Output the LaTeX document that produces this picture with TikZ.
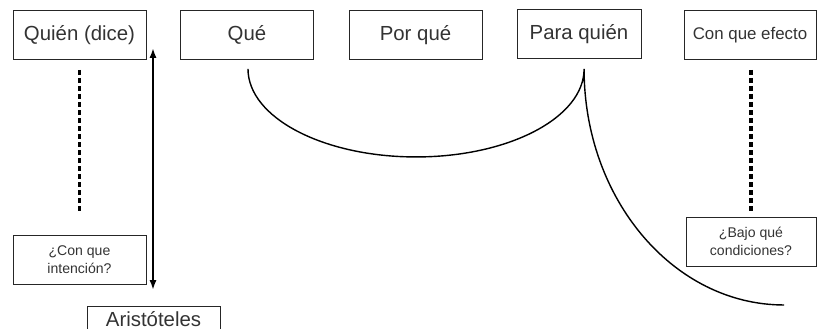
\documentclass[tikz,border=0pt]{standalone}
\usepackage{fontspec}
\setmainfont{Liberation Sans}
\usepackage{tikz}
\usetikzlibrary{arrows.meta,calc}

\tikzset{
  caja/.style={draw=black!85, line width=0.6pt, rectangle, inner sep=2pt, align=center,
    minimum width=3.325cm, minimum height=1.225cm, text=black!80,
    font=\fontsize{14.5}{17}\selectfont},
  cajita/.style={caja, font=\fontsize{10}{13}\selectfont},
  puntos/.style={line width=2.4pt, dash pattern=on 3.5pt off 2.2pt},
  curva/.style={line width=1pt}
}

\begin{document}
\begin{tikzpicture}[x=0.025cm, y=0.025cm]
\useasboundingbox (0,0) rectangle (817,329);
% fila de arriba
\node[caja] (quien) at (79.5,294) {Quién (dice)};
\node[caja] (que) at (247,294) {Qué};
\node[caja] (porque) at (415.5,294) {Por qué};
\node[caja, minimum width=3.1cm] (para) at (579,295) {Para quién};
\node[caja, minimum width=3.3cm, font=\fontsize{12}{14}\selectfont] (efecto) at (750,294) {Con que efecto};
% cajas de abajo
\node[cajita] (intencion) at (79.5,69.5) {¿Con que\\intención?};
\node[cajita, minimum width=3.25cm] (condiciones) at (751,87.5) {¿Bajo qué\\condiciones?};
\node[caja, minimum height=0.65cm] (aristoteles) at (153.5,10) {Aristóteles};
% lineas punteadas
\draw[puntos] ($(quien.south)+(0,-10)$) -- ($(intencion.north)+(0,22)$);
\draw[puntos] ($(efecto.south)+(1,-10)$) -- ($(condiciones.north)+(0,4)$);
% flecha
\coordinate (arriba) at (153,281);
\coordinate (abajo) at (153,39);
\draw[line width=2pt, {Latex[length=7pt,width=5pt]}-{Latex[length=7pt,width=5pt]}] (arriba) -- (abajo);
% curvas
\coordinate (inicio) at ($(que.south)+(1,-9)$);
\draw[curva] (inicio) arc[start angle=180, end angle=360, x radius=4.2cm, y radius=2.2cm] coordinate (pico)
  arc[start angle=180, end angle=270, x radius=5cm, y radius=5.9cm];
\end{tikzpicture}
\end{document}
